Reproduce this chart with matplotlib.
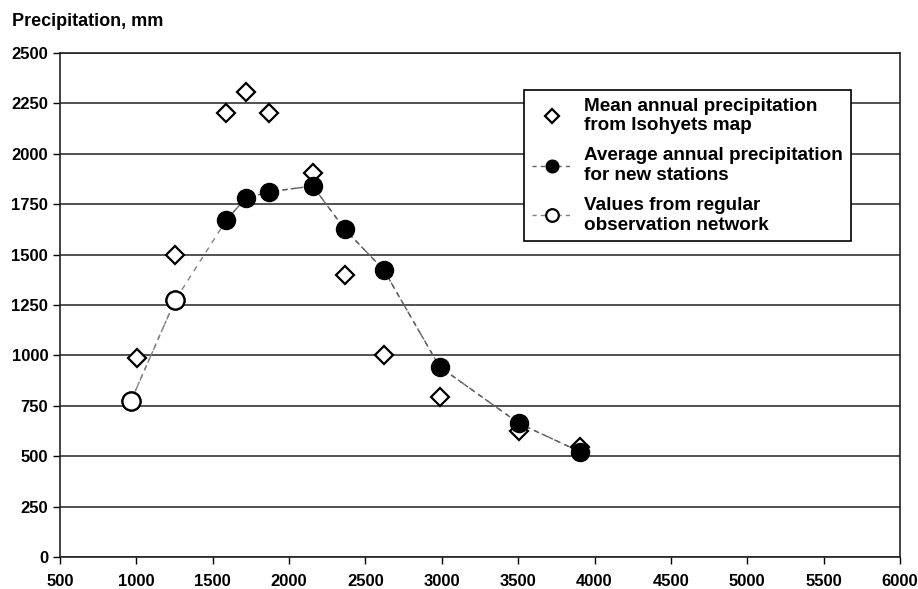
import numpy as np
import matplotlib.pyplot as plt

plt.rcParams['font.family'] = ['Liberation Sans', 'DejaVu Sans']
plt.rcParams['font.weight'] = 'bold'

# mean annual precipitation from isohyets map
isoX = [1005, 1255, 1590, 1715, 1870, 2155, 2365, 2620, 2990, 3505, 3905]
isoY = [985, 1500, 2200, 2305, 2200, 1905, 1400, 1000, 795, 625, 545]

# average annual precipitation for new stations
newX = [1590, 1715, 1870, 2155, 2365, 2620, 2985, 3505, 3905]
newY = [1672, 1779, 1812, 1840, 1625, 1424, 944, 663, 522]

# values from regular observation network
regX = [965, 1255]
regY = [775, 1275]

xTicks = list(range(500, 6001, 500))
yTicks = list(range(0, 2501, 250))

fig = plt.figure(figsize=(9.18, 5.89), dpi=100)
ax = fig.add_axes([60 / 918, 1 - 557 / 589, 840 / 918, 504 / 589])

# dashed line from the regular network runs on to the first new station
ax.plot(regX + newX[:1], regY + newY[:1], color='#808080', ls=(0, (4, 4)), lw=1.0, zorder=2)
ax.plot(newX, newY, color='#606060', ls=(0, (4, 4)), lw=1.0, zorder=2)

ax.plot(isoX, isoY, ls='none', marker='D', ms=9.5, mfc='white', mec='black', mew=1.6,
        zorder=3, label='Mean annual precipitation\nfrom Isohyets map')
ax.plot(newX, newY, color='#606060', ls=(0, (3, 3)), lw=1.0, marker='o', ms=13,
        mfc='black', mec='black', zorder=4,
        label='Average annual precipitation\nfor new stations')
ax.plot(regX, regY, color='#808080', ls=(0, (3, 3)), lw=1.0, marker='o', ms=13,
        mfc='white', mec='black', mew=1.6, zorder=4,
        label='Values from regular\nobservation network')
# keep the open circles above the line segments
ax.plot(regX, regY, ls='none', marker='o', ms=13, mfc='white', mec='black', mew=1.6, zorder=5)

ax.set_xlim(500, 6000)
ax.set_ylim(0, 2500)
ax.set_xticks(xTicks)
ax.set_yticks(yTicks)
ax.tick_params(axis='both', labelsize=12, direction='out', length=5, width=1)
ax.tick_params(axis='x', pad=7)
for lab in ax.get_xticklabels() + ax.get_yticklabels():
    lab.set_fontweight('bold')
ax.grid(axis='y', color='#333333', lw=1.2)
ax.set_axisbelow(True)
for s in ax.spines.values():
    s.set_linewidth(1.2)
    s.set_color('#222222')

fig.text(12 / 918, 1 - 22 / 589, 'Precipitation, mm', fontsize=13, fontweight='bold',
         va='center', ha='left')

leg = ax.legend(loc='upper left', bbox_to_anchor=((524 - 60) / 840, (557 - 90) / 504),
                fontsize=13.6, frameon=True, fancybox=False, edgecolor='black',
                framealpha=1, borderpad=0.4, labelspacing=0.7, handlelength=2.2,
                handletextpad=0.6, borderaxespad=0, markerscale=0.7)
leg.get_frame().set_linewidth(1.2)
for t in leg.get_texts():
    t.set_fontweight('bold')

fig.savefig('out.png', dpi=100)
